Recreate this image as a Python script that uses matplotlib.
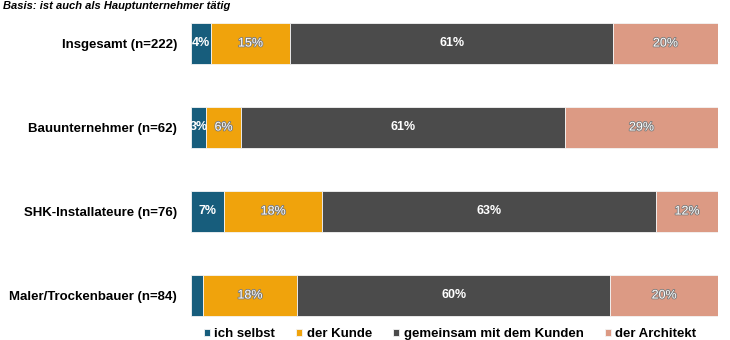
import matplotlib
matplotlib.use("Agg")
import matplotlib.pyplot as plt
import matplotlib.patheffects as pe
import numpy as np

plt.rcParams['font.family'] = ['Liberation Sans', 'DejaVu Sans']

categories = ["Insgesamt (n=222)", "Bauunternehmer (n=62)",
              "SHK-Installateure (n=76)", "Maler/Trockenbauer (n=84)"]
series_names = ["ich selbst", "der Kunde", "gemeinsam mit dem Kunden", "der Architekt"]
ich_selbst = [3.8, 2.9, 6.3, 2.2]
der_kunde = [15.0, 6.6, 18.6, 18.0]
gemeinsam = [61.3, 61.5, 63.4, 59.4]
architekt = [19.9, 29.0, 11.7, 20.4]
labels_ich = ["4%", "3%", "7%", ""]
labels_kunde = ["15%", "6%", "18%", "18%"]
labels_gemeinsam = ["61%", "61%", "63%", "60%"]
labels_architekt = ["20%", "29%", "12%", "20%"]
title = "Basis: ist auch als Hauptunternehmer tätig"

colors = ["#175d7c", "#f0a30c", "#4b4b4b", "#dc9a84"]
series = [ich_selbst, der_kunde, gemeinsam, architekt]
series_labels = [labels_ich, labels_kunde, labels_gemeinsam, labels_architekt]
outlined = [False, True, False, True]

fig = plt.figure(figsize=(7.3, 3.4), dpi=100)
ax = fig.add_axes([191/730, 2.5/340, 527/730, 336/340])

y = np.arange(len(categories))
left = np.zeros(len(categories))
handles = []
for vals, col, name, labs, outl in zip(series, colors, series_names, series_labels, outlined):
    vals = np.array(vals)
    bars = ax.barh(y, vals, left=left, height=0.49, color=col,
                   edgecolor="#f4f4f4", linewidth=0.6, label=name)
    handles.append(bars)
    for yi, (l, v, t) in enumerate(zip(left, vals, labs)):
        if t:
            txt = ax.text(l + v / 2, yi, t, ha="center", va="center",
                          color="white", fontsize=9,
                          fontweight="bold" if not outl else "normal")
            if outl:
                txt.set_path_effects([pe.withStroke(linewidth=1.2, foreground="#7a7a7a")])
    left = left + vals

ax.set_xlim(0, 100)
ax.set_ylim(3.5, -0.5)
ax.set_yticks(y)
ax.set_yticklabels(categories, fontsize=9.5, fontweight="bold")
ax.tick_params(axis="y", length=0, pad=10)
ax.set_xticks([])
for s in ax.spines.values():
    s.set_visible(False)

fig.text(3/730, 1 - 6/340, title, fontsize=8, fontstyle="italic",
         fontweight="bold", va="center", ha="left")

leg = fig.legend(handles=handles, labels=series_names, loc="center",
                 bbox_to_anchor=(450/730, 6/340), ncol=4, frameon=False,
                 fontsize=9.5, handlelength=0.45, handleheight=0.45,
                 handletextpad=0.35, columnspacing=1.6, borderpad=0)
for t in leg.get_texts():
    t.set_fontweight("bold")

fig.savefig("out.png", dpi=100)
